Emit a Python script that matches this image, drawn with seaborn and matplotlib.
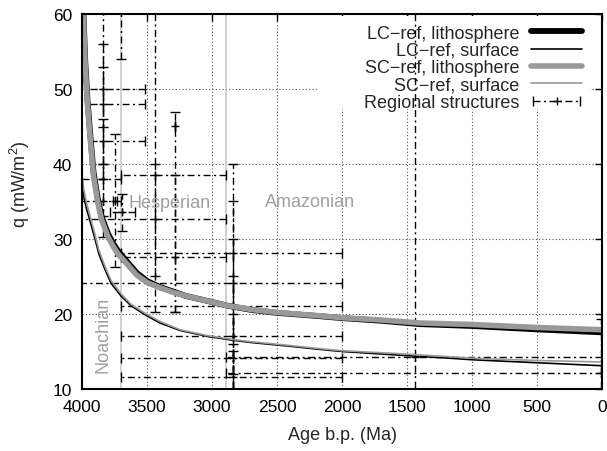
import numpy as np
import pandas as pd
import matplotlib
matplotlib.use("Agg")
import matplotlib.pyplot as plt
import seaborn as sns
from matplotlib.patches import Rectangle
from matplotlib.lines import Line2D
from matplotlib.legend_handler import HandlerErrorbar

# ---------------- data ----------------
lith_age = [4000, 3990, 3975, 3958, 3935, 3912, 3880, 3850, 3800, 3760, 3723, 3650,
            3580, 3500, 3400, 3300, 3200, 3000, 2880, 2700, 2500, 2200, 2000, 1700,
            1400, 1000, 500, 0]
lc_lith_q = [80, 60.5, 53.6, 48.6, 43.6, 39.0, 35.5, 33.0, 30.7, 29.4, 28.4, 26.9,
             25.5, 24.4, 23.6, 23.0, 22.4, 21.6, 21.1, 20.55, 20.15, 19.75, 19.45, 19.1,
             18.65, 18.4, 17.95, 17.55]
sc_lith_q = [80, 60, 53, 48, 43, 38.5, 35.0, 32.6, 30.3, 29.0, 28.0, 26.6,
             25.2, 24.2, 23.5, 22.9, 22.4, 21.6, 21.1, 20.6, 20.2, 19.8, 19.5, 19.2,
             18.8, 18.6, 18.2, 17.9]

surf_age = [4000, 3985, 3965, 3940, 3900, 3870, 3820, 3777, 3700, 3623, 3515, 3400,
            3246, 3030, 2840, 2700, 2400, 2185, 2000, 1550, 1170, 1000, 500, 0]
lc_surf_q = [37.5, 35.5, 34.0, 32.5, 30.0, 28.0, 25.8, 24.1, 22.4, 21.1, 19.9, 18.8,
             17.8, 17.0, 16.5, 16.2, 15.7, 15.3, 15.0, 14.5, 14.1, 13.9, 13.5, 13.1]
sc_surf_q = [38.5, 36.5, 34.8, 33.2, 30.6, 28.5, 26.2, 24.5, 22.7, 21.3, 20.1, 19.0,
             17.9, 17.1, 16.6, 16.3, 15.8, 15.4, 15.1, 14.7, 14.3, 14.1, 13.8, 13.6]

# regional structures: centre age, older bound, younger bound, q, q low, q high
reg_age = [3840, 3840, 3840, 3840, 3840, 3700, 3692, 3746, 3440, 3285, 3440, 3285,
           2840, 2840, 2840, 2840, 2840, 2840, 1440, 10]
reg_age_old = [3960, 3955, 3945, 4100, 4100, 3700, 3785, 3760, 3700, 3285, 4100, 3700,
               3700, 4100, 3700, 3700, 3700, 3700, 2890, 2890]
reg_age_young = [3515, 3515, 3515, 3700, 3700, 3700, 3590, 3730, 2890, 3285, 2890, 2890,
                 2000, 2000, 2000, 2000, 2000, 2000, 0, 0]
reg_q = [50.0, 48.0, 43.0, 38.0, 35.1, 62.0, 33.6, 35.0, 38.5, 45.1, 32.7, 27.6,
         28.1, 24.1, 21.1, 17.1, 14.1, 11.6, 14.3, 12.1]
reg_q_low = [45.0, 40.0, 38.0, 33.0, 30.3, 54.0, 31.0, 26.3, 25.1, 20.3, 20.3, 20.3,
             16.0, 12.0, 8.0, 8.0, 8.0, 8.0, 8.0, 8.0]
reg_q_high = [65.0, 56.0, 53.0, 46.0, 40.0, 70.0, 36.0, 44.0, 65.0, 47.0, 40.0, 38.5,
              40.0, 35.0, 30.0, 25.0, 20.0, 15.0, 65.0, 19.3]

period_bounds = [3700, 2890]
period_names = ["Noachian", "Hesperian", "Amazonian"]
period_label_age = [3838, 3330, 2246]
period_label_q = [17.3, 34.9, 35.0]

x_ticks = [4000, 3500, 3000, 2500, 2000, 1500, 1000, 500, 0]
y_ticks = [10, 20, 30, 40, 50, 60]

legend_labels = ["LC\u2212ref, lithosphere", "LC\u2212ref, surface",
                 "SC\u2212ref, lithosphere", "SC\u2212ref, surface",
                 "Regional structures"]

# ---------------- style ----------------
sns.set_theme(style="white")
plt.rcParams['font.family'] = ['Liberation Sans', 'DejaVu Sans']
plt.rcParams['mathtext.fontset'] = 'custom'
plt.rcParams['mathtext.rm'] = 'Liberation Sans'
plt.rcParams['mathtext.it'] = 'Liberation Sans:italic'
plt.rcParams['mathtext.bf'] = 'Liberation Sans:bold'

GRAY = '#999999'
DASHDOT = (0, (5, 2.5, 1.5, 2.5))

fig = plt.figure(figsize=(6.07, 4.52), dpi=100)
ax = fig.add_axes([0.1351, 0.1372, 0.8567, 0.8296])

# period boundaries
for b in period_bounds:
    ax.axvline(b, color='#c8c8c8', lw=1.2, zorder=1.5)

# white key box hiding the grid
ax.add_patch(Rectangle((0.4538, 0.7467), 0.5232, 0.2483, transform=ax.transAxes,
                       facecolor='white', edgecolor='none', zorder=2.4))

# regional structures
for a, ao, ay, q, ql, qh in zip(reg_age, reg_age_old, reg_age_young,
                                reg_q, reg_q_low, reg_q_high):
    eb = ax.errorbar([a], [q], xerr=[[a - ay], [ao - a]], yerr=[[q - ql], [qh - q]],
                     fmt='+', color='black', ms=6, mew=1.0, elinewidth=1.0,
                     capsize=3.5, capthick=1.0, zorder=3)
    for lc in eb[2]:
        lc.set_linestyle(DASHDOT)

# dummy for legend
eb_leg = ax.errorbar([-1e5], [-1e5], xerr=[[1], [1]], fmt='+', color='black', ms=6,
                     mew=1.0, elinewidth=1.0, capsize=3.5, capthick=1.0)
for lc in eb_leg[2]:
    lc.set_linestyle(DASHDOT)

# model curves
sns.lineplot(x=lith_age, y=lc_lith_q, color='black', lw=4.2, ax=ax, zorder=4,
             sort=False, estimator=None)
sns.lineplot(x=lith_age, y=sc_lith_q, color=GRAY, lw=4.0, ax=ax, zorder=4.2,
             sort=False, estimator=None)
sns.lineplot(x=surf_age, y=lc_surf_q, color='black', lw=1.2, ax=ax, zorder=4.1,
             sort=False, estimator=None)
sns.lineplot(x=surf_age, y=sc_surf_q, color=GRAY, lw=1.2, ax=ax, zorder=4.3,
             sort=False, estimator=None)

# period labels
for name, xa, yq in zip(period_names, period_label_age, period_label_q):
    ax.text(xa, yq, name, color='#a0a0a0', fontsize=13, ha='center', va='center',
            rotation=90 if name == "Noachian" else 0, zorder=5)

ax.set_xlim(4000, 0)
ax.set_ylim(10, 60)
ax.set_xticks(x_ticks)
ax.set_yticks(y_ticks)
ax.grid(True, linestyle=(0, (1, 2)), color='#555555', lw=0.8)
ax.set_axisbelow(True)
ax.tick_params(direction='in', length=5, width=1, top=True, right=True,
               labelsize=12.5, pad=7, colors='black')
for s in ax.spines.values():
    s.set_visible(True)
    s.set_color('black')
    s.set_linewidth(1.5)
    s.set_zorder(6)

ax.set_xlabel("Age b.p. (Ma)", fontsize=13, labelpad=9)
ax.set_ylabel("q (mW/m$^2$)", fontsize=13)
ax.yaxis.set_label_coords(-0.097, 0.55)

handles = [Line2D([], [], color='black', lw=4.2),
           Line2D([], [], color='black', lw=1.2),
           Line2D([], [], color=GRAY, lw=4.0),
           Line2D([], [], color=GRAY, lw=1.2),
           eb_leg]
leg = ax.legend(handles, legend_labels, loc='upper right',
                bbox_to_anchor=(0.9615, 0.972), frameon=False, markerfirst=False,
                handlelength=2.8, handletextpad=0.65, labelspacing=0.02,
                fontsize=13, borderaxespad=0, borderpad=0,
                handler_map={eb_leg: HandlerErrorbar(xerr_size=1.3)})
leg.set_zorder(2.5)

fig.savefig("out.png", dpi=100)
